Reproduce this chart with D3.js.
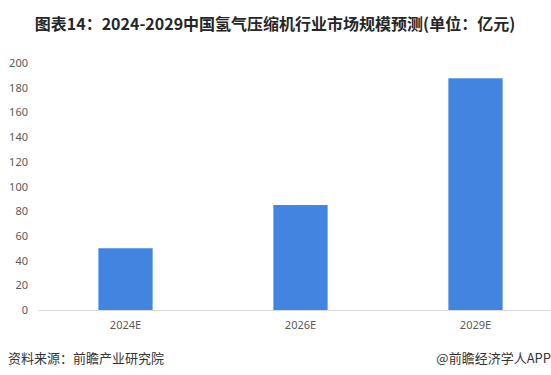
<!DOCTYPE html>
<html>
<head>
<meta charset="utf-8">
<script src="https://cdn.jsdelivr.net/npm/d3@7/dist/d3.min.js"></script>
<style>
  html, body { margin: 0; padding: 0; background: #fff; }
  svg { display: block; font-family: "Noto Sans CJK SC", "Noto Sans", sans-serif; }
</style>
</head>
<body>
<div id="chart"></div>
<script>
var title = '图表14：2024-2029中国氢气压缩机行业市场规模预测(单位：亿元)';
var categories = ['2024E', '2026E', '2029E'];
var values = [50, 85, 187.6];
var yTicks = [0, 20, 40, 60, 80, 100, 120, 140, 160, 180, 200];
var source = '资料来源：前瞻产业研究院';
var brand = '@前瞻经济学人APP';

var width = 551, height = 375;

var svg = d3.select('#chart')
  .append('svg')
  .attr('width', width)
  .attr('height', height);

svg.append('text')
  .attr('x', 275)
  .attr('y', 30)
  .attr('text-anchor', 'middle')
  .attr('font-size', 16)
  .attr('font-weight', 'bold')
  .attr('fill', '#262626')
  .text(title);

var x = d3.scaleBand()
  .domain(categories)
  .range([38, 563])
  .paddingInner(0.69)
  .paddingOuter(0.345);

var y = d3.scaleLinear()
  .domain([0, 200])
  .range([310, 63]);

// y labels, no axis line
var yAxis = svg.append('g')
  .attr('transform', 'translate(28,0)')
  .call(d3.axisLeft(y).tickValues(yTicks).tickSize(0).tickPadding(0));
yAxis.select('.domain').remove();
yAxis.selectAll('text')
  .attr('font-size', 11)
  .attr('fill', '#595959')
  .attr('font-family', '"Noto Sans", sans-serif');

svg.selectAll('rect.bar')
  .data(values)
  .enter()
  .append('rect')
  .attr('class', 'bar')
  .attr('x', function(d, i) { return x(categories[i]); })
  .attr('y', function(d) { return y(d); })
  .attr('width', x.bandwidth())
  .attr('height', function(d) { return y(0) - y(d); })
  .attr('fill', '#4285e0');

var xAxis = svg.append('g')
  .attr('transform', 'translate(0,' + y(0) + ')')
  .call(d3.axisBottom(x).tickSize(0).tickPadding(11));
xAxis.select('.domain')
  .attr('stroke', '#d9d9d9');
xAxis.selectAll('text')
  .attr('font-size', 11)
  .attr('fill', '#595959')
  .attr('font-family', '"Noto Sans", sans-serif');

svg.append('text')
  .attr('x', 8)
  .attr('y', 363)
  .attr('font-size', 13)
  .attr('fill', '#333')
  .text(source);

svg.append('text')
  .attr('x', 551)
  .attr('y', 363)
  .attr('text-anchor', 'end')
  .attr('font-size', 13)
  .attr('fill', '#333')
  .text(brand);
</script>
</body>
</html>
